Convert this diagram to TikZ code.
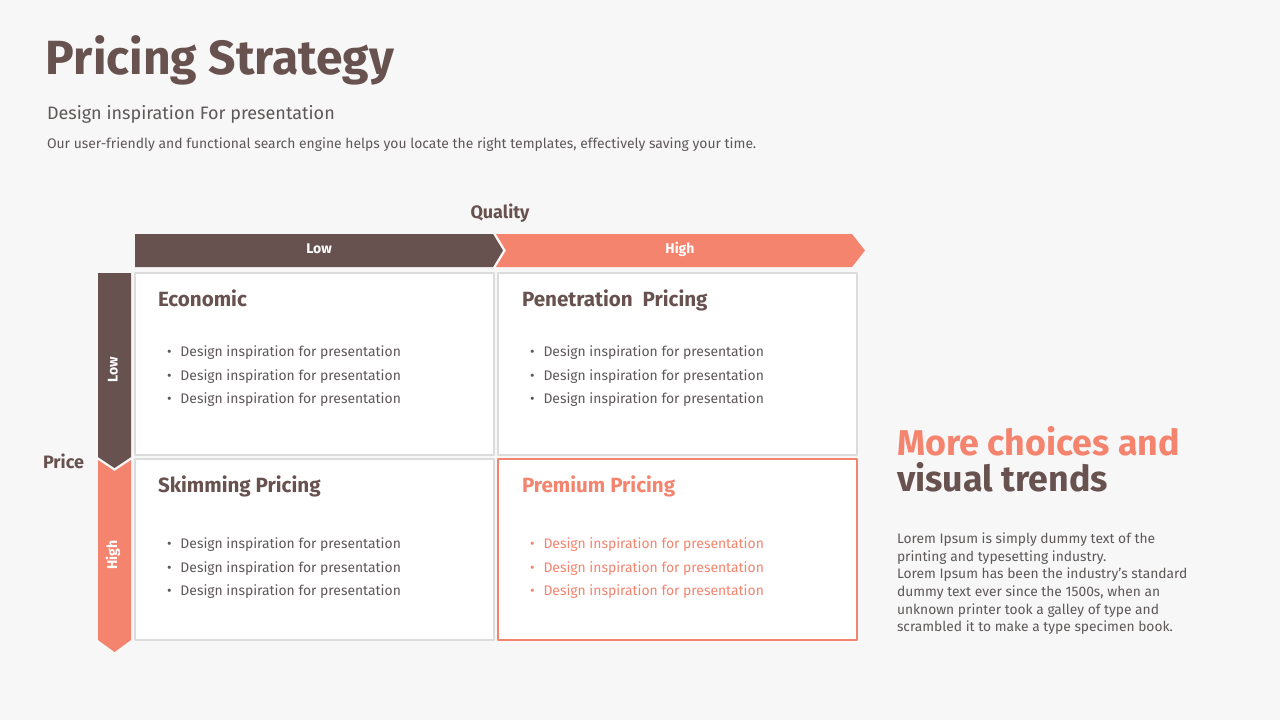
\documentclass[tikz,border=0pt]{standalone}
\usepackage{fontspec}
\setmainfont{Fira Sans}
\definecolor{brownc}{HTML}{68524F}
\definecolor{salmonc}{HTML}{F4846E}
\definecolor{textc}{HTML}{5E5858}
\definecolor{framec}{HTML}{DCDCDC}
\definecolor{pagec}{HTML}{F7F7F7}
\begin{document}
\begin{tikzpicture}[x=0.5pt, y=-0.5pt, line join=round, inner sep=0pt, outer sep=0pt,
	txt/.style={anchor=west, text height=0.7em, text depth=0.2em},
	head/.style={txt, font=\fontsize{10.3}{12}\selectfont\bfseries, text=brownc},
	item/.style={txt, font=\fontsize{6.95}{8}\selectfont, text=textc},
	barlabel/.style={font=\fontsize{7}{8}\selectfont\bfseries, text=white},
	cell/.style={draw=framec, line width=0.6pt, fill=white}]
	
	% Hintergrund
	\fill[pagec] (0,0) rectangle (1280,720);
	\useasboundingbox (0,0) rectangle (1280,720);
	
	% Titel
	\node[anchor=base west, font=\fontsize{24}{26}\selectfont\bfseries, text=brownc] (title) at (46,74) {Pricing Strategy};
	\node[txt, font=\fontsize{9}{11}\selectfont, text=textc] (subtitle) at (47,114) {Design inspiration For presentation};
	\node[txt, font=\fontsize{6.95}{8}\selectfont, text=textc] (intro) at (47,143) {Our user-friendly and functional search engine helps you locate the right templates, effectively saving your time.};
	
	% Achse oben
	\node[font=\fontsize{9}{11}\selectfont\bfseries, text=brownc] (quality) at (500,213) {Quality};
	\fill[brownc] (135,234) -- (493,234) -- (503,250.5) -- (493,267) -- (135,267) -- cycle;
	\fill[salmonc] (496,234) -- (852,234) -- (865,250.5) -- (852,267) -- (496,267) -- (506,250.5) -- cycle;
	\node[barlabel] (qlow) at (319,249) {Low};
	\node[barlabel] (qhigh) at (680,249) {High};
	
	% Achse links
	\node[font=\fontsize{9}{11}\selectfont\bfseries, text=brownc] (price) at (63.5,461) {Price};
	\fill[brownc] (98,273) -- (131,273) -- (131,457) -- (114.5,468) -- (98,457) -- cycle;
	\fill[salmonc] (98,460) -- (114.5,471) -- (131,460) -- (131,640) -- (114.5,652) -- (98,640) -- cycle;
	\node[barlabel, rotate=90] (plow) at (113,370) {Low};
	\node[barlabel, rotate=90] (phigh) at (113,555) {High};
	
	% Felder
	\draw[cell] (135,273) rectangle (494,455);
	\draw[cell] (498,273) rectangle (857,455);
	\draw[cell] (135,459) rectangle (494,640);
	\draw[draw=salmonc, line width=1pt, fill=white] (498,459) rectangle (857,640);
	
	\node[head] (econ) at (158,301) {Economic};
	\node[head] (pene) at (522,301) {Penetration\ \ Pricing};
	\node[head] (skim) at (158,487) {Skimming Pricing};
	\node[head, text=salmonc] (prem) at (522,487) {Premium Pricing};
	
	\foreach \y [count=\i] in {351,375,398}{
		\node[item] (econ-\i) at (167,\y) {\textbullet\hspace{4.5pt}Design inspiration for presentation};
		\node[item] (pene-\i) at (530,\y) {\textbullet\hspace{4.5pt}Design inspiration for presentation};
	}
	\foreach \y [count=\i] in {543,567,590}{
		\node[item] (skim-\i) at (167,\y) {\textbullet\hspace{4.5pt}Design inspiration for presentation};
		\node[item, text=salmonc] (prem-\i) at (530,\y) {\textbullet\hspace{4.5pt}Design inspiration for presentation};
	}
	
	% Rechter Text
	\node[anchor=base west, font=\fontsize{17.9}{19}\selectfont\bfseries, text=salmonc] (claim-1) at (897,455) {More choices and};
	\node[anchor=base west, font=\fontsize{17.9}{19}\selectfont\bfseries, text=brownc] (claim-2) at (897,491) {visual trends};
	\node[anchor=north west, align=left, font=\fontsize{6.9}{8.8}\selectfont, text=textc] (lorem) at (897,533)
	{Lorem Ipsum is simply dummy text of the\\printing and typesetting industry.\\Lorem Ipsum has been the industry's standard\\dummy text ever since the 1500s, when an\\unknown printer took a galley of type and\\scrambled it to make a type specimen book.};
	
\end{tikzpicture}
\end{document}
